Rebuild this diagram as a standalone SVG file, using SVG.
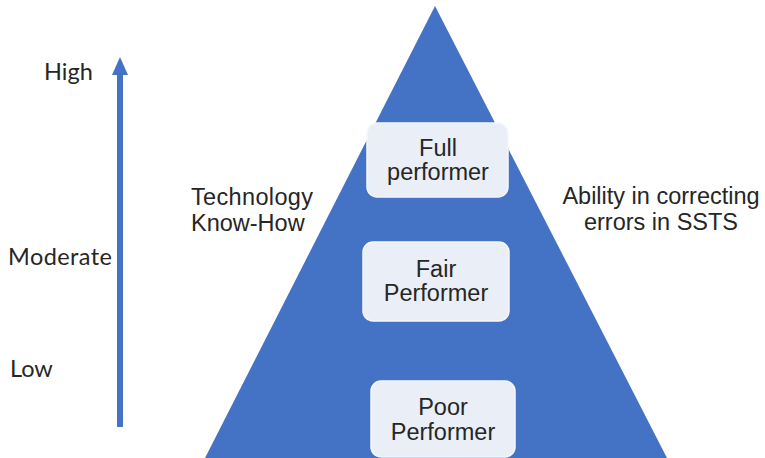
<svg xmlns="http://www.w3.org/2000/svg" width="765" height="458" viewBox="0 0 765 458">
  <defs>
    <style>
      .tri { fill: #4472C4; }
      .box { fill: #E9EEF7; stroke: #F4F7FC; stroke-width: 1.5; }
      .boxtxt { font-family: "Liberation Sans", Arial, sans-serif; font-size: 23.5px; fill: #262626; text-anchor: middle; }
      .side { font-family: "Liberation Sans", Arial, sans-serif; font-size: 23.5px; fill: #262626; }
      .level { font-family: Lato, "Open Sans", sans-serif; font-size: 23.5px; fill: #262626; }
      .axis { stroke: #4472C4; stroke-width: 6; fill: none; }
    </style>
  </defs>

  <rect width="765" height="458" fill="#ffffff"/>

  <!-- pyramid -->
  <g id="pyramid">
    <polygon class="tri" points="435,6 667,458 205,458"/>
  </g>

  <!-- vertical level axis -->
  <g id="connectors">
    <line class="axis" x1="120" y1="427" x2="120" y2="75"/>
    <polygon points="120,57 128,75 112,75" fill="#4472C4"/>
  </g>

  <!-- level labels -->
  <g id="level-high"><text class="level" x="44" y="80">High</text></g>
  <g id="level-moderate"><text class="level" x="8" y="265" textLength="104">Moderate</text></g>
  <g id="level-low"><text class="level" x="10" y="377">Low</text></g>

  <!-- side labels -->
  <g id="label-technology">
    <text class="side" x="191" y="205" textLength="122">Technology</text>
    <text class="side" x="191" y="231">Know-How</text>
  </g>
  <g id="label-ability">
    <text class="side" x="661" y="204" text-anchor="middle">Ability in correcting</text>
    <text class="side" x="661" y="230" text-anchor="middle">errors in SSTS</text>
  </g>

  <!-- performer tiers -->
  <g id="full-performer">
    <rect class="box" x="367" y="123" width="141" height="74" rx="10"/>
    <text class="boxtxt" x="438" y="156">Full</text>
    <text class="boxtxt" x="438" y="180">performer</text>
  </g>
  <g id="fair-performer">
    <rect class="box" x="363" y="242" width="146" height="79" rx="10"/>
    <text class="boxtxt" x="436" y="277">Fair</text>
    <text class="boxtxt" x="436" y="301">Performer</text>
  </g>
  <g id="poor-performer">
    <rect class="box" x="371" y="381" width="144" height="76" rx="10"/>
    <text class="boxtxt" x="443" y="415">Poor</text>
    <text class="boxtxt" x="443" y="440">Performer</text>
  </g>
</svg>
